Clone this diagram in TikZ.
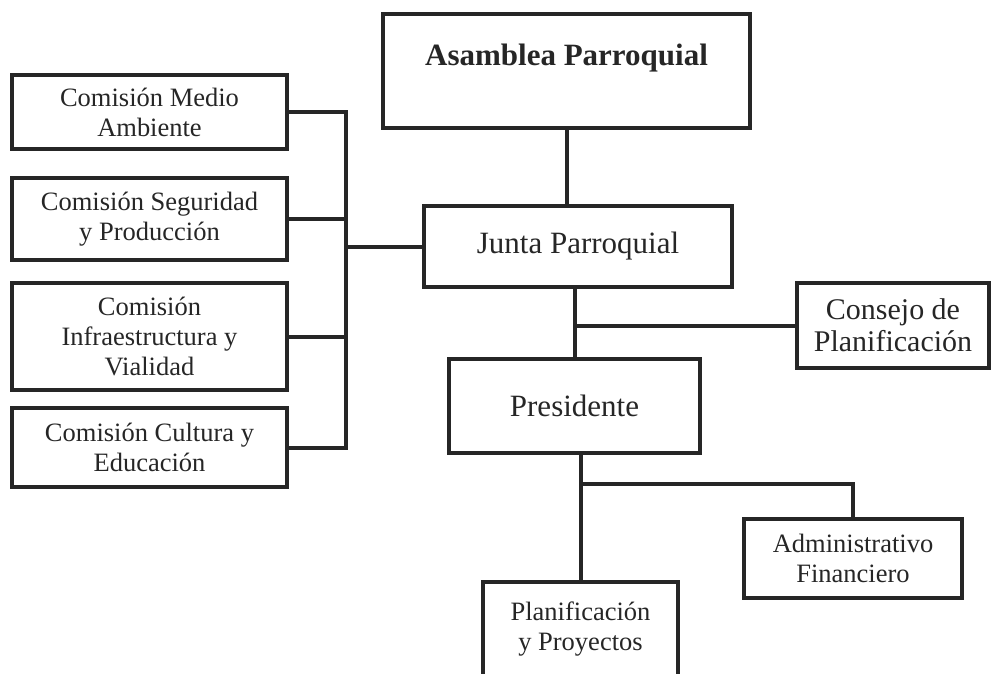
\documentclass[tikz,border=0pt]{standalone}
\usepackage{fontspec}
\setmainfont{Liberation Serif}
\usetikzlibrary{calc,positioning}
\definecolor{inkgray}{rgb}{0.15,0.15,0.15}
\tikzstyle{box} = [draw=inkgray, line width=4pt, align=center, inner sep=0pt, text=inkgray, font=\fontsize{26.5}{30}\selectfont]
\tikzstyle{bigbox} = [box, font=\fontsize{31}{33}\selectfont]
\tikzstyle{line} = [draw=inkgray, line width=4pt]

\begin{document}
\begin{tikzpicture}[x=1pt,y=-1pt]
\useasboundingbox (0,0) rectangle (991,673);
% top
\draw (566.5,71) node (asamblea) [bigbox, minimum width=367pt, minimum height=114pt, text depth=33pt] {\textbf{Asamblea Parroquial}};
\draw (578,246.5) node (junta) [bigbox, minimum width=308pt, minimum height=81pt] {Junta Parroquial};
\draw (893,325.5) node (consejo) [box, font=\fontsize{30}{32}\selectfont, minimum width=192pt, minimum height=85pt] {Consejo de\\Planificación};
\draw (574.5,406) node (presidente) [bigbox, minimum width=251pt, minimum height=94pt] {Presidente};
\draw (853,558.5) node (admin) [box, minimum width=218pt, minimum height=79pt] {Administrativo\\Financiero};
\draw (580.5,629.5) node (planif) [box, minimum width=195pt, minimum height=95pt] {Planificación\\y Proyectos};
% comisiones
\draw (149.5,112) node (medio) [box, minimum width=275pt, minimum height=74pt] {Comisión Medio\\Ambiente};
\draw (149.5,219) node (seguridad) [box, minimum width=275pt, minimum height=82pt] {Comisión Seguridad\\y Producción};
\draw (149.5,336.5) node (infra) [box, minimum width=275pt, minimum height=107pt] {Comisión\\Infraestructura y\\Vialidad};
\draw (149.5,447.5) node (cultura) [box, minimum width=275pt, minimum height=79pt] {Comisión Cultura y\\Educación};
\coordinate (cbus) at (346,0);
\coordinate (pbus) at (580.5,484);
% connectors
\draw[line] (asamblea.south) -- (asamblea.south |- junta.north);
\draw[line] (presidente.north) -- (presidente.north |- junta.south);
\draw[line] (consejo.west) -- (consejo.west -| presidente.north);
\draw[line] (planif.north) -- (planif.north |- presidente.south);
\draw[line] (admin.north) |- (pbus);
\draw[line] (medio.east) -- (medio.east -| cbus) -- (cultura.east -| cbus) -- (cultura.east);
\draw[line] (seguridad.east) -- (seguridad.east -| cbus);
\draw[line] (infra.east) -- (infra.east -| cbus);
\draw[line] (junta.west) -- (junta.west -| cbus);
\end{tikzpicture}
\end{document}
